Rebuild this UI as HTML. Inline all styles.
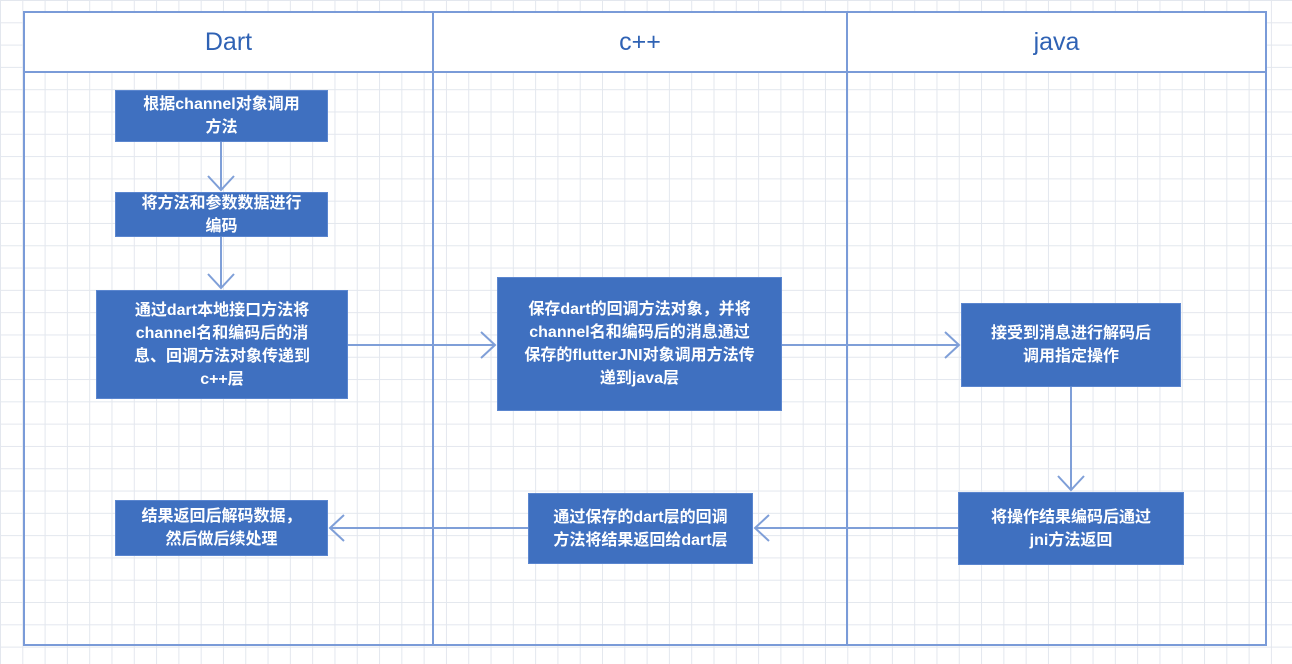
<!DOCTYPE html>
<html><head><meta charset="utf-8"><style>
html,body{margin:0;padding:0;width:1292px;height:664px;overflow:hidden;background:#fff}
.g{position:absolute;left:0;top:0;width:1292px;height:664px;
background-image:linear-gradient(to right,#e3e7ee 1px,transparent 1px),linear-gradient(to bottom,#e3e7ee 1px,transparent 1px);
background-size:22.3px 22.3px;background-position:0px 0px}
.b{position:absolute;background:#3f70c0;color:#fff;font-family:"Liberation Sans","Noto Sans CJK SC",sans-serif;font-size:16px;font-weight:bold;line-height:23px;text-align:center;display:flex;align-items:center;justify-content:center;box-sizing:border-box;padding:0 4px;border:1px solid #5b86cf;white-space:nowrap}
.h{position:absolute;top:12px;height:60px;display:flex;align-items:center;justify-content:center;font-family:"Liberation Sans",sans-serif;font-size:25px;color:#2f62b4}
svg{position:absolute;left:0;top:0}
</style></head><body>
<div class="g"></div>
<svg width="1292" height="664">
<rect x="24" y="12" width="1242" height="633" fill="none" stroke="#7a9bd8" stroke-width="2"/>
<rect x="24" y="12" width="1242" height="60" fill="#fff" stroke="#7a9bd8" stroke-width="2"/>
<line x1="433" y1="12" x2="433" y2="645" stroke="#7a9bd8" stroke-width="2"/>
<line x1="847" y1="12" x2="847" y2="645" stroke="#7a9bd8" stroke-width="2"/>
<g stroke="#7f9fd8" stroke-width="2" fill="none">
<line x1="221" y1="142" x2="221" y2="190"/><polyline points="208,176 221,190 234,176"/>
<line x1="221" y1="237" x2="221" y2="288"/><polyline points="208,274 221,288 234,274"/>
<line x1="348" y1="345" x2="495" y2="345"/><polyline points="481,332 495,345 481,358"/>
<line x1="782" y1="345" x2="959" y2="345"/><polyline points="945,332 959,345 945,358"/>
<line x1="1071" y1="387" x2="1071" y2="490"/><polyline points="1058,476 1071,490 1084,476"/>
<line x1="958" y1="528" x2="755" y2="528"/><polyline points="769,515 755,528 769,541"/>
<line x1="528" y1="528" x2="330" y2="528"/><polyline points="344,515 330,528 344,541"/>
</g>
</svg>
<div class="h" style="left:24px;width:409px">Dart</div>
<div class="h" style="left:433px;width:414px">c++</div>
<div class="h" style="left:847px;width:419px">java</div>
<div class="b" style="left:115px;top:90px;width:213px;height:52px">根据channel对象调用<br>方法</div>
<div class="b" style="left:115px;top:192px;width:213px;height:45px">将方法和参数数据进行<br>编码</div>
<div class="b" style="left:96px;top:290px;width:252px;height:109px">通过dart本地接口方法将<br>channel名和编码后的消<br>息、回调方法对象传递到<br>c++层</div>
<div class="b" style="left:497px;top:277px;width:285px;height:134px">保存dart的回调方法对象，并将<br>channel名和编码后的消息通过<br>保存的flutterJNI对象调用方法传<br>递到java层</div>
<div class="b" style="left:961px;top:303px;width:220px;height:84px">接受到消息进行解码后<br>调用指定操作</div>
<div class="b" style="left:958px;top:492px;width:226px;height:73px">将操作结果编码后通过<br>jni方法返回</div>
<div class="b" style="left:528px;top:493px;width:225px;height:71px">通过保存的dart层的回调<br>方法将结果返回给dart层</div>
<div class="b" style="left:115px;top:500px;width:213px;height:56px">结果返回后解码数据，<br>然后做后续处理</div>
</body></html>
